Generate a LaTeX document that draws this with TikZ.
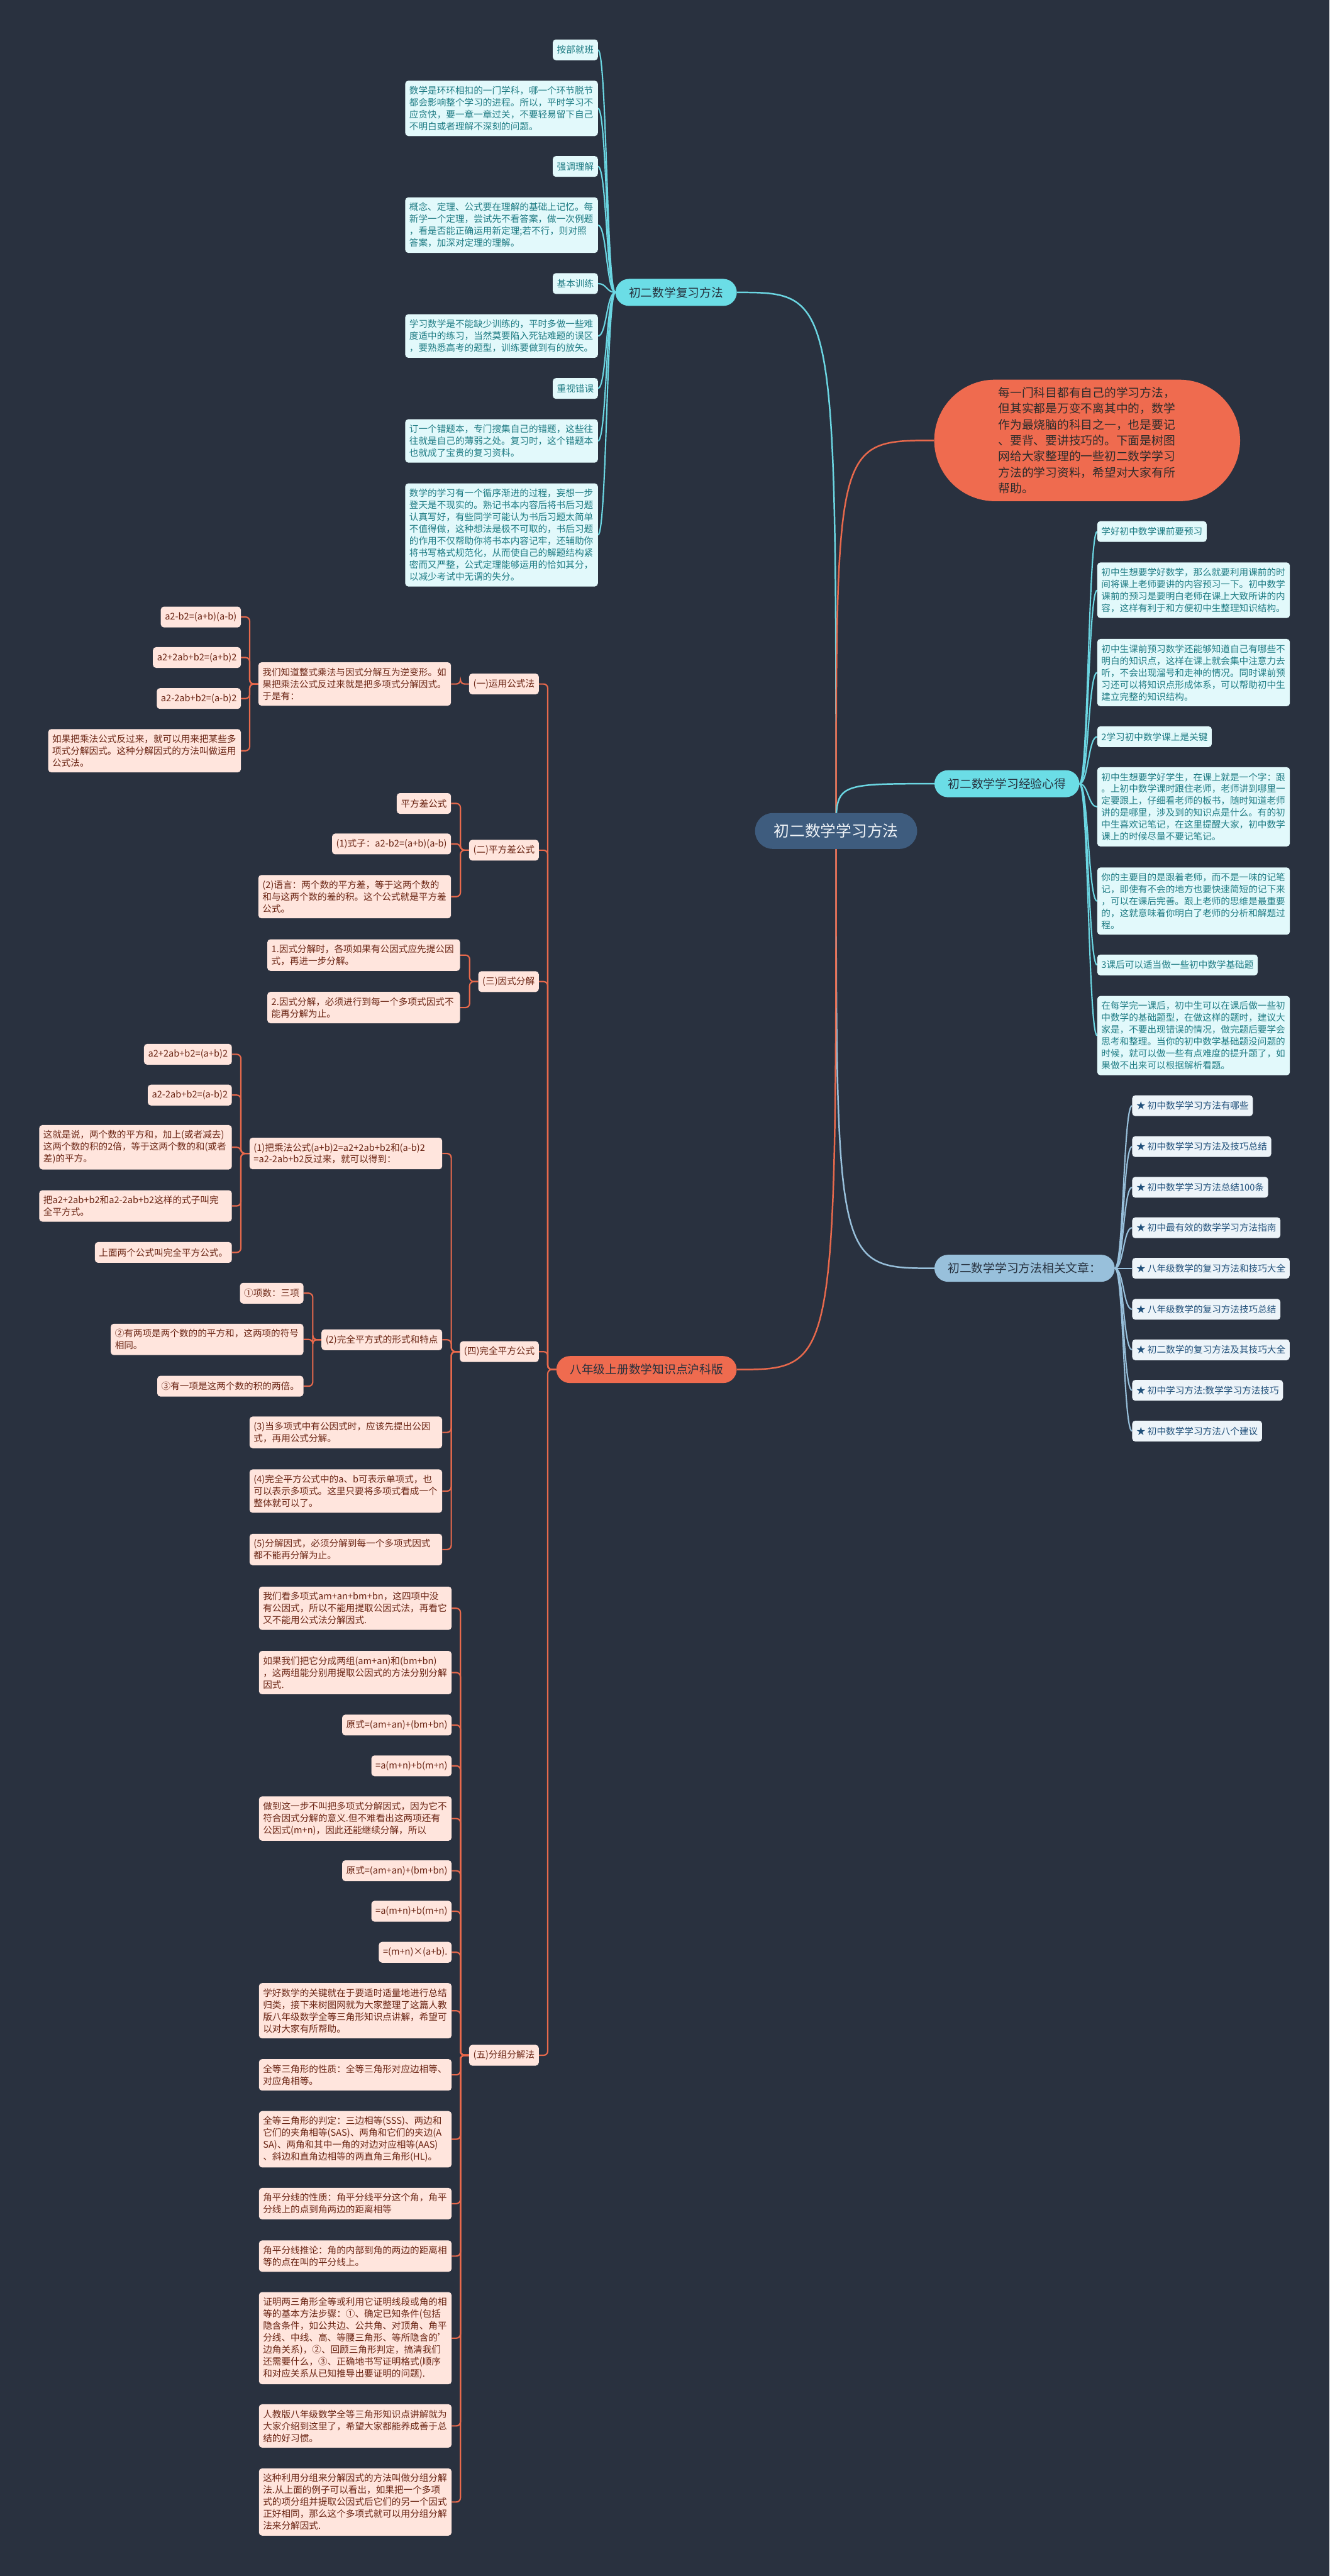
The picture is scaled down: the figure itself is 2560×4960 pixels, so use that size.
\documentclass[tikz,border=0pt]{standalone}
\usepackage{fontspec}
\setmainfont{Noto Sans CJK SC}
\usepackage{tikz}
\definecolor{Ground}{HTML}{29313F}
\definecolor{HubBlue}{HTML}{3E5C7E}
\definecolor{HubInk}{HTML}{EEF2F6}
\definecolor{CyanMain}{HTML}{6BDDE6}
\definecolor{CyanLine}{HTML}{6BD6E2}
\definecolor{CyanPale}{HTML}{E2F9FB}
\definecolor{CyanInk}{HTML}{1F7C84}
\definecolor{CoralMain}{HTML}{EF6B4F}
\definecolor{CoralLine}{HTML}{E8694C}
\definecolor{CoralPale}{HTML}{FFE5DD}
\definecolor{CoralInk}{HTML}{6B2514}
\definecolor{SkyMain}{HTML}{98C0DB}
\definecolor{SkyPale}{HTML}{EDF4F9}
\definecolor{SkyInk}{HTML}{1F4F79}
\definecolor{BranchInk}{HTML}{25303D}
\definecolor{NoteInk}{HTML}{2B2B2B}
\pgfdeclarelayer{back}
\pgfsetlayers{back,main}

\begin{document}
\begin{tikzpicture}[
  x=1pt, y=-1pt,
  hub/.style={
    fill=HubBlue, text=HubInk, rounded corners=34pt,
    minimum height=69pt, inner xsep=36pt, font=\fontsize{30}{36}\selectfont
  },
  branch/.style={
    rounded corners=26pt, minimum height=52pt, inner xsep=26pt,
    text=BranchInk, font=\fontsize{22.7}{28}\selectfont
  },
  leaf/.style={
    rounded corners=6pt, inner xsep=8pt, inner ysep=10.5pt, minimum height=40pt,
    align=left, font=\fontsize{17.7}{23}\selectfont
  },
  wide/.style={text width=355pt},
  cyanbox/.style={leaf, fill=CyanPale, text=CyanInk},
  coralbox/.style={leaf, fill=CoralPale, text=CoralInk},
  skybox/.style={leaf, fill=SkyPale, text=SkyInk},
  note/.style={
    fill=CoralMain, text=NoteInk, rounded corners=117pt,
    minimum width=589pt, minimum height=234pt, text width=342pt,
    align=left, font=\fontsize{22.7}{30.6}\selectfont
  },
  trunk/.style={line width=3pt},
  cyanleft/.style={draw=CyanLine, line width=2.6pt,
    to path={.. controls +(-17,0) and +(17,0) .. (\tikztotarget)}},
  cyanright/.style={draw=CyanLine, line width=2.6pt,
    to path={.. controls +(17,0) and +(-17,0) .. (\tikztotarget)}},
  skyright/.style={draw=SkyMain, line width=2.6pt,
    to path={.. controls +(17,0) and +(-17,0) .. (\tikztotarget)}},
  corallink/.style={draw=CoralLine, line width=2.6pt, rounded corners=8pt,
    to path={-- ++(-16.5,0) |- (\tikztotarget)}}
]
\useasboundingbox (0,0) rectangle (2560,4960);
\begin{pgfonlayer}{back}
\fill[Ground] (0,0) rectangle (2560,4960);
\end{pgfonlayer}

\node[hub] (hub) at (1610,1600) {初二数学学习方法};

% review methods
\node[branch, fill=CyanMain] (review) at (1302,563) {初二数学复习方法};
\node[cyanbox, anchor=east] (rv1) at (1151.5,96) {按部就班};
\node[cyanbox, wide, anchor=east] (rv2) at (1151.5,208.6) {数学是环环相扣的一门学科，哪一个环节脱节\\
都会影响整个学习的进程。所以，平时学习不\\
应贪快，要一章一章过关，不要轻易留下自己\\
不明白或者理解不深刻的问题。};
\node[cyanbox, anchor=east] (rv3) at (1151.5,320.5) {强调理解};
\node[cyanbox, wide, anchor=east] (rv4) at (1151.5,433.5) {概念、定理、公式要在理解的基础上记忆。每\\
新学一个定理，尝试先不看答案，做一次例题\\
，看是否能正确运用新定理;若不行，则对照\\
答案，加深对定理的理解。};
\node[cyanbox, anchor=east] (rv5) at (1151.5,546) {基本训练};
\node[cyanbox, wide, anchor=east] (rv6) at (1151.5,647) {学习数学是不能缺少训练的，平时多做一些难\\
度适中的练习，当然莫要陷入死钻难题的误区\\
，要熟悉高考的题型，训练要做到有的放矢。};
\node[cyanbox, anchor=east] (rv7) at (1151.5,748) {重视错误};
\node[cyanbox, wide, anchor=east] (rv8) at (1151.5,849) {订一个错题本，专门搜集自己的错题，这些往\\
往就是自己的薄弱之处。复习时，这个错题本\\
也就成了宝贵的复习资料。};
\node[cyanbox, wide, anchor=east] (rv9) at (1151.5,1030) {数学的学习有一个循序渐进的过程，妄想一步\\
登天是不现实的。熟记书本内容后将书后习题\\
认真写好，有些同学可能认为书后习题太简单\\
不值得做，这种想法是极不可取的，书后习题\\
的作用不仅帮助你将书本内容记牢，还辅助你\\
将书写格式规范化，从而使自己的解题结构紧\\
密而又严整，公式定理能够运用的恰如其分，\\
以减少考试中无谓的失分。};

% intro
\node[note] (intro) at (2093.5,848) {每一门科目都有自己的学习方法，\\
但其实都是万变不离其中的，数学\\
作为最烧脑的科目之一，也是要记\\
、要背、要讲技巧的。下面是树图\\
网给大家整理的一些初二数学学习\\
方法的学习资料，希望对大家有所\\
帮助。};

% experience
\node[branch, fill=CyanMain] (exp) at (1939,1509) {初二数学学习经验心得};
\node[cyanbox, anchor=west] (e1) at (2112.7,1023.5) {学好初中数学课前要预习};
\node[cyanbox, wide, anchor=west] (e2) at (2112.7,1136.5) {初中生想要学好数学，那么就要利用课前的时\\
间将课上老师要讲的内容预习一下。初中数学\\
课前的预习是要明白老师在课上大致所讲的内\\
容，这样有利于和方便初中生整理知识结构。};
\node[cyanbox, wide, anchor=west] (e3) at (2112.7,1295) {初中生课前预习数学还能够知道自己有哪些不\\
明白的知识点，这样在课上就会集中注意力去\\
听，不会出现溜号和走神的情况。同时课前预\\
习还可以将知识点形成体系，可以帮助初中生\\
建立完整的知识结构。};
\node[cyanbox, anchor=west] (e4) at (2112.7,1418.5) {2学习初中数学课上是关键};
\node[cyanbox, wide, anchor=west] (e5) at (2112.7,1553.5) {初中生想要学好学生，在课上就是一个字：跟\\
。上初中数学课时跟住老师，老师讲到哪里一\\
定要跟上，仔细看老师的板书，随时知道老师\\
讲的是哪里，涉及到的知识点是什么。有的初\\
中生喜欢记笔记，在这里提醒大家，初中数学\\
课上的时候尽量不要记笔记。};
\node[cyanbox, wide, anchor=west] (e6) at (2112.7,1735) {你的主要目的是跟着老师，而不是一味的记笔\\
记，即使有不会的地方也要快速简短的记下来\\
，可以在课后完善。跟上老师的思维是最重要\\
的，这就意味着你明白了老师的分析和解题过\\
程。};
\node[cyanbox, anchor=west] (e7) at (2112.7,1858) {3课后可以适当做一些初中数学基础题};
\node[cyanbox, wide, anchor=west] (e8) at (2112.7,1994) {在每学完一课后，初中生可以在课后做一些初\\
中数学的基础题型，在做这样的题时，建议大\\
家是，不要出现错误的情况，做完题后要学会\\
思考和整理。当你的初中数学基础题没问题的\\
时候，就可以做一些有点难度的提升题了，如\\
果做不出来可以根据解析看题。};

% related articles
\node[branch, fill=SkyMain] (related) at (1973,2442) {初二数学学习方法相关文章：};
\node[skybox, anchor=west] (r1) at (2180,2129) {★ 初中数学学习方法有哪些};
\node[skybox, anchor=west] (r2) at (2180,2207.7) {★ 初中数学学习方法及技巧总结};
\node[skybox, anchor=west] (r3) at (2180,2286) {★ 初中数学学习方法总结100条};
\node[skybox, anchor=west] (r4) at (2180,2364) {★ 初中最有效的数学学习方法指南};
\node[skybox, anchor=west] (r5) at (2180,2442) {★ 八年级数学的复习方法和技巧大全};
\node[skybox, anchor=west] (r6) at (2180,2521) {★ 八年级数学的复习方法技巧总结};
\node[skybox, anchor=west] (r7) at (2180,2599) {★ 初二数学的复习方法及其技巧大全};
\node[skybox, anchor=west] (r8) at (2180,2677) {★ 初中学习方法:数学学习方法技巧};
\node[skybox, anchor=west] (r9) at (2180,2755.5) {★ 初中数学学习方法八个建议};

% grade eight knowledge points
\node[branch, fill=CoralMain] (grade) at (1245,2637) {八年级上册数学知识点沪科版};
\node[coralbox, anchor=east] (formula) at (1037.7,1317) {(一)运用公式法};
\node[coralbox, anchor=east] (sqdiff) at (1037.7,1637) {(二)平方差公式};
\node[coralbox, anchor=east] (factor) at (1037.7,1890) {(三)因式分解};
\node[coralbox, anchor=east] (perfect) at (1037.7,2602.5) {(四)完全平方公式};
\node[coralbox, anchor=east] (group) at (1037.7,3957.3) {(五)分组分解法};

\node[coralbox, wide, anchor=east] (fa) at (868.7,1317) {我们知道整式乘法与因式分解互为逆变形。如\\
果把乘法公式反过来就是把多项式分解因式。\\
于是有：};
\node[coralbox, anchor=east] (fa1) at (464,1188) {a2-b2=(a+b)(a-b)};
\node[coralbox, anchor=east] (fa2) at (464,1266) {a2+2ab+b2=(a+b)2};
\node[coralbox, anchor=east] (fa3) at (464,1345) {a2-2ab+b2=(a-b)2};
\node[coralbox, wide, anchor=east] (fa4) at (464,1445.5) {如果把乘法公式反过来，就可以用来把某些多\\
项式分解因式。这种分解因式的方法叫做运用\\
公式法。};

\node[coralbox, anchor=east] (sq1) at (868.7,1547) {平方差公式};
\node[coralbox, anchor=east] (sq2) at (868.7,1625) {(1)式子：a2-b2=(a+b)(a-b)};
\node[coralbox, wide, anchor=east] (sq3) at (868.7,1726.5) {(2)语言：两个数的平方差，等于这两个数的\\
和与这两个数的差的积。这个公式就是平方差\\
公式。};

\node[coralbox, wide, anchor=east] (fc1) at (886,1839) {1.因式分解时，各项如果有公因式应先提公因\\
式，再进一步分解。};
\node[coralbox, wide, anchor=east] (fc2) at (886,1940) {2.因式分解，必须进行到每一个多项式因式不\\
能再分解为止。};

\node[coralbox, wide, anchor=east] (pf1) at (851.7,2221) {(1)把乘法公式(a+b)2=a2+2ab+b2和(a-b)2\\
=a2-2ab+b2反过来，就可以得到：};
\node[coralbox, anchor=east] (pa1) at (446.7,2030) {a2+2ab+b2=(a+b)2};
\node[coralbox, anchor=east] (pa2) at (446.7,2108.5) {a2-2ab+b2=(a-b)2};
\node[coralbox, wide, anchor=east] (pa3) at (446.7,2209) {这就是说，两个数的平方和，加上(或者减去)\\
这两个数的积的2倍，等于这两个数的和(或者\\
差)的平方。};
\node[coralbox, wide, anchor=east] (pa4) at (446.7,2322) {把a2+2ab+b2和a2-2ab+b2这样的式子叫完\\
全平方式。};
\node[coralbox, anchor=east] (pa5) at (446.7,2411.5) {上面两个公式叫完全平方公式。};
\node[coralbox, anchor=east] (pf2) at (851.7,2579.6) {(2)完全平方式的形式和特点};
\node[coralbox, anchor=east] (pb1) at (584.5,2490) {①项数：三项};
\node[coralbox, wide, anchor=east] (pb2) at (584.5,2579) {②有两项是两个数的的平方和，这两项的符号\\
相同。};
\node[coralbox, anchor=east] (pb3) at (584.5,2669) {③有一项是这两个数的积的两倍。};
\node[coralbox, wide, anchor=east] (pf3) at (851.7,2758) {(3)当多项式中有公因式时，应该先提出公因\\
式，再用公式分解。};
\node[coralbox, wide, anchor=east] (pf4) at (851.7,2871) {(4)完全平方公式中的a、b可表示单项式，也\\
可以表示多项式。这里只要将多项式看成一个\\
整体就可以了。};
\node[coralbox, wide, anchor=east] (pf5) at (851.7,2983.5) {(5)分解因式，必须分解到每一个多项式因式\\
都不能再分解为止。};

\node[coralbox, wide, anchor=east] (g1) at (869.8,3096.6) {我们看多项式am+an+bm+bn，这四项中没\\
有公因式，所以不能用提取公因式法，再看它\\
又不能用公式法分解因式.};
\node[coralbox, wide, anchor=east] (g2) at (869.8,3220.5) {如果我们把它分成两组(am+an)和(bm+bn)\\
，这两组能分别用提取公因式的方法分别分解\\
因式.};
\node[coralbox, anchor=east] (g3) at (869.8,3321.5) {原式=(am+an)+(bm+bn)};
\node[coralbox, anchor=east] (g4) at (869.8,3400) {=a(m+n)+b(m+n)};
\node[coralbox, wide, anchor=east] (g5) at (869.8,3501.5) {做到这一步不叫把多项式分解因式，因为它不\\
符合因式分解的意义.但不难看出这两项还有\\
公因式(m+n)，因此还能继续分解，所以};
\node[coralbox, anchor=east] (g6) at (869.8,3602) {原式=(am+an)+(bm+bn)};
\node[coralbox, anchor=east] (g7) at (869.8,3680) {=a(m+n)+b(m+n)};
\node[coralbox, anchor=east] (g8) at (869.8,3759) {=(m+n)×(a+b).};
\node[coralbox, wide, anchor=east] (g9) at (869.8,3871.6) {学好数学的关键就在于要适时适量地进行总结\\
归类，接下来树图网就为大家整理了这篇人教\\
版八年级数学全等三角形知识点讲解，希望可\\
以对大家有所帮助。};
\node[coralbox, wide, anchor=east] (g10) at (869.8,3995) {全等三角形的性质：全等三角形对应边相等、\\
对应角相等。};
\node[coralbox, wide, anchor=east] (g11) at (869.8,4119) {全等三角形的判定：三边相等(SSS)、两边和\\
它们的夹角相等(SAS)、两角和它们的夹边(A\\
SA)、两角和其中一角的对边对应相等(AAS)\\
、斜边和直角边相等的两直角三角形(HL)。};
\node[coralbox, wide, anchor=east] (g12) at (869.8,4243) {角平分线的性质：角平分线平分这个角，角平\\
分线上的点到角两边的距离相等};
\node[coralbox, wide, anchor=east] (g13) at (869.8,4344) {角平分线推论：角的内部到角的两边的距离相\\
等的点在叫的平分线上。};
\node[coralbox, wide, anchor=east] (g14) at (869.8,4502) {证明两三角形全等或利用它证明线段或角的相\\
等的基本方法步骤：①、确定已知条件(包括\\
隐含条件，如公共边、公共角、对顶角、角平\\
分线、中线、高、等腰三角形、等所隐含的'\\
边角关系)，②、回顾三角形判定，搞清我们\\
还需要什么，③、正确地书写证明格式(顺序\\
和对应关系从已知推导出要证明的问题).};
\node[coralbox, wide, anchor=east] (g15) at (869.8,4671) {人教版八年级数学全等三角形知识点讲解就为\\
大家介绍到这里了，希望大家都能养成善于总\\
结的好习惯。};
\node[coralbox, wide, anchor=east] (g16) at (869.8,4817.5) {这种利用分组来分解因式的方法叫做分组分解\\
法.从上面的例子可以看出，如果把一个多项\\
式的项分组并提取公因式后它们的另一个因式\\
正好相同，那么这个多项式就可以用分组分解\\
法来分解因式.};

\begin{pgfonlayer}{back}
\draw[trunk, CyanLine] (hub.center) .. controls (hub.center |- review.east) .. (review.east);
\draw[trunk, CoralLine] (hub.center) .. controls (hub.center |- intro.west) .. (intro.west);
\draw[trunk, CyanLine] (hub.center) .. controls (hub.center |- exp.west) .. (exp.west);
\draw[trunk, SkyMain] (hub.center) .. controls (hub.center |- related.west) .. (related.west);
\draw[trunk, CoralLine] (hub.center) .. controls (hub.center |- grade.east) .. (grade.east);

\draw[cyanleft] (review.west) to (rv1.east);
\draw[cyanleft] (review.west) to (rv2.east);
\draw[cyanleft] (review.west) to (rv3.east);
\draw[cyanleft] (review.west) to (rv4.east);
\draw[cyanleft] (review.west) to (rv5.east);
\draw[cyanleft] (review.west) to (rv6.east);
\draw[cyanleft] (review.west) to (rv7.east);
\draw[cyanleft] (review.west) to (rv8.east);
\draw[cyanleft] (review.west) to (rv9.east);

\draw[cyanright] (exp.east) to (e1.west);
\draw[cyanright] (exp.east) to (e2.west);
\draw[cyanright] (exp.east) to (e3.west);
\draw[cyanright] (exp.east) to (e4.west);
\draw[cyanright] (exp.east) to (e5.west);
\draw[cyanright] (exp.east) to (e6.west);
\draw[cyanright] (exp.east) to (e7.west);
\draw[cyanright] (exp.east) to (e8.west);

\draw[skyright] (related.east) to (r1.west);
\draw[skyright] (related.east) to (r2.west);
\draw[skyright] (related.east) to (r3.west);
\draw[skyright] (related.east) to (r4.west);
\draw[skyright] (related.east) to (r5.west);
\draw[skyright] (related.east) to (r6.west);
\draw[skyright] (related.east) to (r7.west);
\draw[skyright] (related.east) to (r8.west);
\draw[skyright] (related.east) to (r9.west);

\draw[corallink] (grade.west) to (formula.east);
\draw[corallink] (grade.west) to (sqdiff.east);
\draw[corallink] (grade.west) to (factor.east);
\draw[corallink] (grade.west) to (perfect.east);
\draw[corallink] (grade.west) to (group.east);

\draw[corallink] (formula.west) to (fa.east);
\draw[corallink] (fa.west) to (fa1.east);
\draw[corallink] (fa.west) to (fa2.east);
\draw[corallink] (fa.west) to (fa3.east);
\draw[corallink] (fa.west) to (fa4.east);

\draw[corallink] (sqdiff.west) to (sq1.east);
\draw[corallink] (sqdiff.west) to (sq2.east);
\draw[corallink] (sqdiff.west) to (sq3.east);

\draw[corallink] (factor.west) to (fc1.east);
\draw[corallink] (factor.west) to (fc2.east);

\draw[corallink] (perfect.west) to (pf1.east);
\draw[corallink] (perfect.west) to (pf2.east);
\draw[corallink] (perfect.west) to (pf3.east);
\draw[corallink] (perfect.west) to (pf4.east);
\draw[corallink] (perfect.west) to (pf5.east);
\draw[corallink] (pf1.west) to (pa1.east);
\draw[corallink] (pf1.west) to (pa2.east);
\draw[corallink] (pf1.west) to (pa3.east);
\draw[corallink] (pf1.west) to (pa4.east);
\draw[corallink] (pf1.west) to (pa5.east);
\draw[corallink] (pf2.west) to (pb1.east);
\draw[corallink] (pf2.west) to (pb2.east);
\draw[corallink] (pf2.west) to (pb3.east);

\draw[corallink] (group.west) to (g1.east);
\draw[corallink] (group.west) to (g2.east);
\draw[corallink] (group.west) to (g3.east);
\draw[corallink] (group.west) to (g4.east);
\draw[corallink] (group.west) to (g5.east);
\draw[corallink] (group.west) to (g6.east);
\draw[corallink] (group.west) to (g7.east);
\draw[corallink] (group.west) to (g8.east);
\draw[corallink] (group.west) to (g9.east);
\draw[corallink] (group.west) to (g10.east);
\draw[corallink] (group.west) to (g11.east);
\draw[corallink] (group.west) to (g12.east);
\draw[corallink] (group.west) to (g13.east);
\draw[corallink] (group.west) to (g14.east);
\draw[corallink] (group.west) to (g15.east);
\draw[corallink] (group.west) to (g16.east);
\end{pgfonlayer}
\end{tikzpicture}
\end{document}
